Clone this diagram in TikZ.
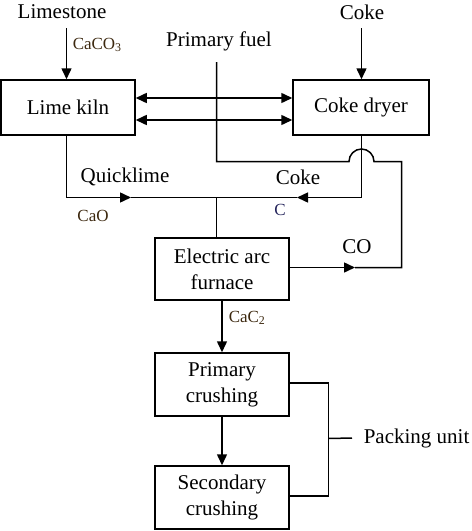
\documentclass[tikz,border=0pt]{standalone}
\usepackage{fontspec}
\setmainfont{Liberation Serif}
\usetikzlibrary{arrows.meta}
\definecolor{labc}{RGB}{60,40,15}
\definecolor{labb}{RGB}{35,35,90}
\begin{document}
\begin{tikzpicture}[x=1pt,y=-1pt,
  every path/.style={line width=1.5pt},
  box/.style={draw, line width=1.5pt, align=center, inner sep=0pt,
    font=\fontsize{21}{26}\selectfont},
  txt/.style={inner sep=0pt, font=\fontsize{21}{26}\selectfont},
  lab/.style={inner sep=0pt, font=\fontsize{17}{20}\selectfont, text=labc},
  arr/.style={-{Triangle[length=11pt,width=10pt]}},
  darr/.style={{Triangle[length=11pt,width=10pt]}-{Triangle[length=11pt,width=10pt]}}]
\useasboundingbox (0,0) rectangle (472,531);

% boxes
\node[box, minimum width=134pt, minimum height=55pt] (kiln) at (68,107.5) {Lime kiln};
\node[box, minimum width=136pt, minimum height=55pt] (dryer) at (361,107.5) {Coke dryer};
\node[box, minimum width=134pt, minimum height=62pt] (furnace) at (222,269) {Electric arc\\furnace};
\node[box, minimum width=134pt, minimum height=63pt] (prim) at (222,384.5) {Primary\\crushing};
\node[box, minimum width=134pt, minimum height=63pt] (sec) at (222,497.5) {Secondary\\crushing};

% texts
\node[txt] (limestone) at (62,12) {Limestone};
\node[txt] (coke) at (362,12) {Coke};
\node[txt] (fuel) at (219,41) {Primary fuel};
\node[txt] (quick) at (125,177) {Quicklime};
\node[txt] (cokel) at (298,177) {Coke};
\node[txt] (co) at (357,247) {CO};
\node[txt, anchor=west, inner xsep=11pt] (packing) at (352,438) {Packing unit};
\node[lab, anchor=west] (caco3) at (72,45) {CaCO\textsubscript{3}};
\node[lab] (cao) at (93,216) {CaO};
\node[lab, text=labb] (cl) at (280,210) {C};
\node[lab, anchor=west] (cac2) at (228,318) {CaC\textsubscript{2}};

% coordinates
\coordinate (lsTop) at (66.5,28);
\coordinate (cokeTop) at (361.5,28);
\coordinate (fuelTop) at (216.5,62);
\coordinate (j) at (216.5,197.5);
\coordinate (bk) at (328.5,438.5);

% feeds
\draw[arr] (lsTop) -- (lsTop |- kiln.north);
\draw[arr] (cokeTop) -- (cokeTop |- dryer.north);

% double arrows between kiln and dryer
\draw[darr] ([yshift=9.5pt]kiln.east) -- ([yshift=9.5pt]dryer.west);
\draw[darr] ([yshift=-12.5pt]kiln.east) -- ([yshift=-12.5pt]dryer.west);

% primary fuel / CO loop
\draw (fuelTop) -- (216.5,161.5) -- (349,161.5)
  arc[start angle=180, end angle=360, radius=12.5] -- (401.5,161.5) -- (401.5,267.5) -- (355,267.5);
\draw[arr] ([yshift=1.5pt]furnace.east) -- (355,267.5);

% quicklime and coke to furnace
\draw[arr] ([xshift=-1.5pt]kiln.south) |- (131,197.5);
\draw (131,197.5) -- (j);
\draw[arr] ([xshift=0.5pt]dryer.south) |- (297,197.5);
\draw (297,197.5) -- (j);
\draw (j) -- (j |- furnace.north);

% product line
\draw[arr] (furnace.south) -- (prim.north);
\draw[arr] (prim.south) -- (sec.north);

% packing bracket
\draw ([yshift=1.5pt]prim.east) -| (bk);
\draw ([yshift=1.5pt]sec.east) -| (bk);
\draw (bk) -- (packing.west);
\end{tikzpicture}
\end{document}
